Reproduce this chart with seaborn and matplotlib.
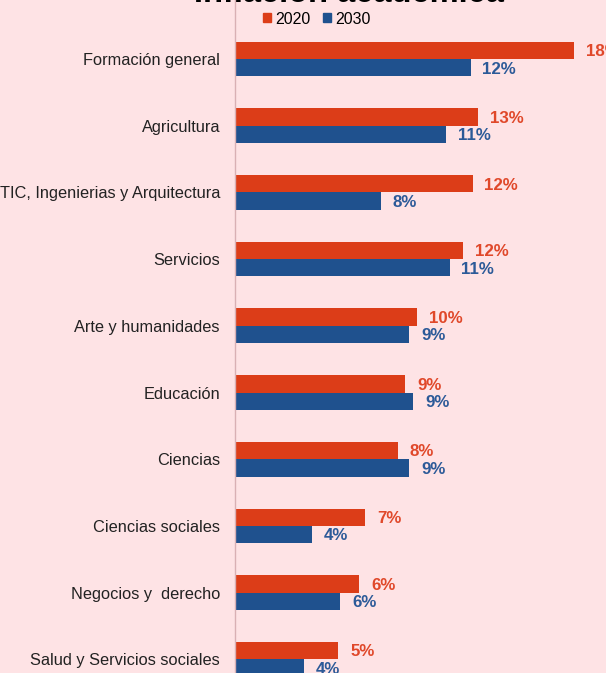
import pandas as pd
import matplotlib.pyplot as plt
import seaborn as sns

categories = [
    "Formación general",
    "Agricultura",
    "TIC, Ingenierias y Arquitectura",
    "Servicios",
    "Arte y humanidades",
    "Educación",
    "Ciencias",
    "Ciencias sociales",
    "Negocios y  derecho",
    "Salud y Servicios sociales",
]
values_2020 = [17.7, 12.7, 12.4, 11.9, 9.5, 8.9, 8.5, 6.8, 6.5, 5.4]
values_2030 = [12.3, 11.0, 7.6, 11.2, 9.1, 9.3, 9.1, 4.0, 5.5, 3.6]
labels_2020 = ["18%", "13%", "12%", "12%", "10%", "9%", "8%", "7%", "6%", "5%"]
labels_2030 = ["12%", "11%", "8%", "11%", "9%", "9%", "9%", "4%", "6%", "4%"]
years = ["2020", "2030"]

BG = "#FEE3E5"
RED = "#DC3D18"
BLUE = "#1F518E"

df = pd.DataFrame({
    "categoria": categories * 2,
    "valor": values_2020 + values_2030,
    "anio": [years[0]] * len(categories) + [years[1]] * len(categories),
})

plt.rcParams["font.family"] = ["Liberation Sans", "DejaVu Sans"]

fig = plt.figure(figsize=(6.06, 6.73), dpi=100, facecolor=BG)
ax = fig.add_axes([235 / 606, 0, (606 - 235) / 606, 1])
ax.set_facecolor(BG)

sns.barplot(data=df, y="categoria", x="valor", hue="anio", orient="h",
            palette={"2020": RED, "2030": BLUE}, width=0.52, saturation=1,
            linewidth=0, ax=ax)

ax.set_xlim(0, 19.37)
ax.set_ylim(9.205, -0.885)
ax.set_xlabel("")
ax.set_ylabel("")
ax.set_xticks([])
ax.tick_params(axis="y", length=0, pad=10.8, labelsize=11.8, labelcolor="#222222")
for s in ["top", "right", "bottom"]:
    ax.spines[s].set_visible(False)
ax.spines["left"].set_color("#D9B0B4")
ax.spines["left"].set_linewidth(1)

for i in range(len(categories)):
    ax.text(values_2020[i] + 0.62, i - 0.11, labels_2020[i], color="#E0482A",
            fontsize=12.2, fontweight="bold", va="center", ha="left")
    ax.text(values_2030[i] + 0.62, i + 0.15, labels_2030[i], color="#2C5A98",
            fontsize=12.2, fontweight="bold", va="center", ha="left")

ax.get_legend().remove()
handles = [plt.Rectangle((0, 0), 1, 1, color=RED), plt.Rectangle((0, 0), 1, 1, color=BLUE)]
fig.legend(handles, years, loc="center left", bbox_to_anchor=(263 / 606, 1 - 19 / 673),
           ncol=2, frameon=False, fontsize=11.5, handlelength=0.5, handleheight=0.5,
           handletextpad=0.25, columnspacing=0.8, borderpad=0, borderaxespad=0)

fig.text(349 / 606, 1 - 1.5 / 673, "Inflación académica", ha="center", va="baseline",
         fontsize=23.5, fontweight="bold", color="black")

fig.savefig("out.png", dpi=100, facecolor=BG)
